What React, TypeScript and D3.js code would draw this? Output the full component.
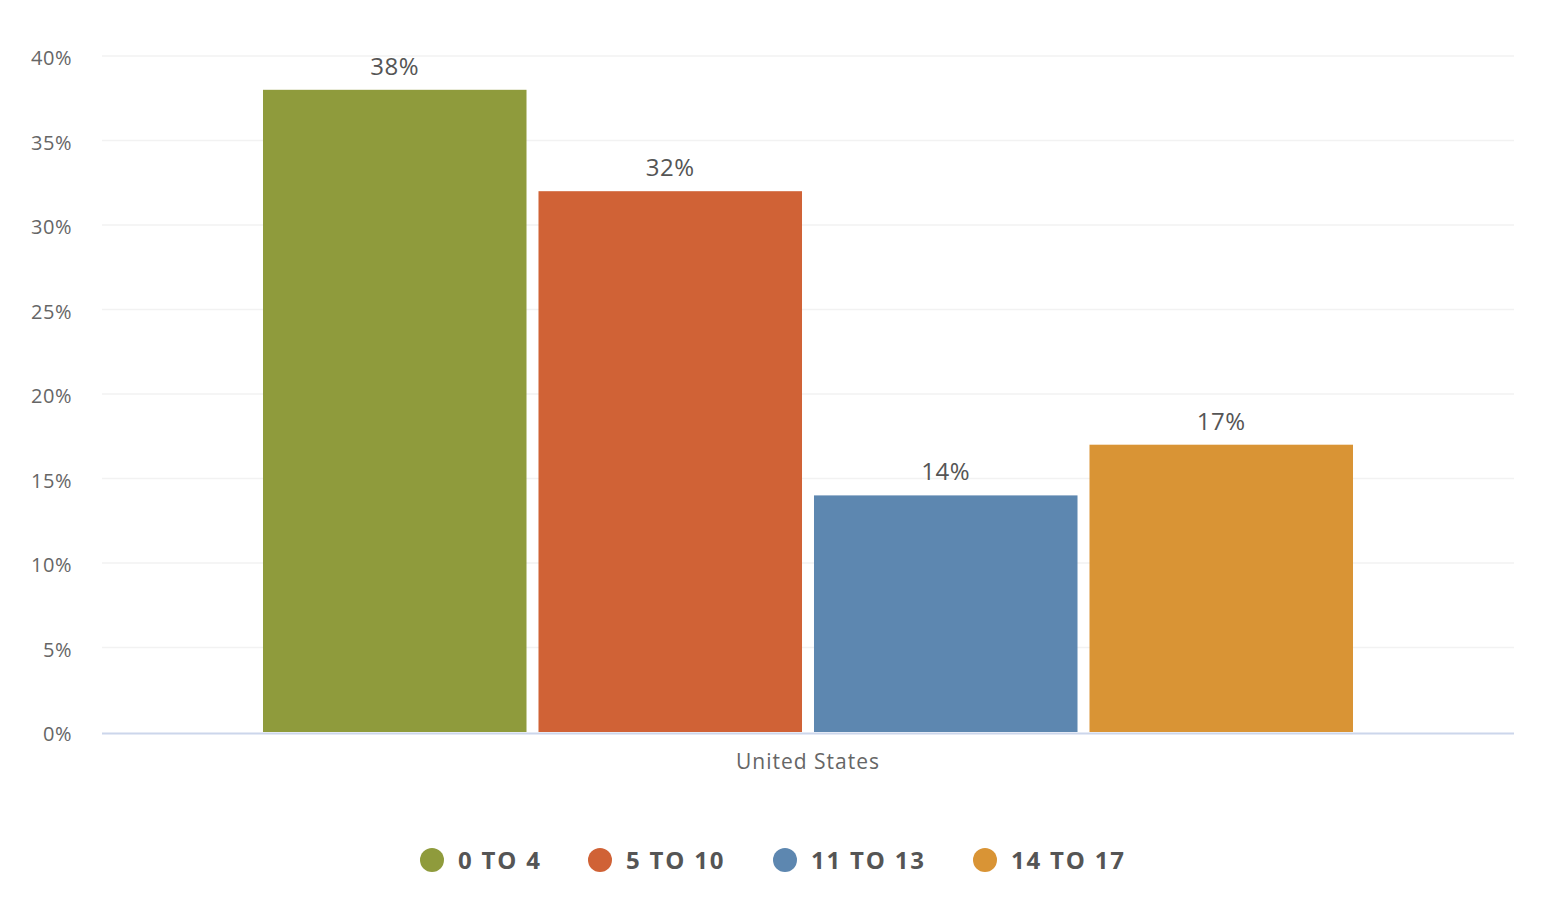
import * as d3 from "d3";

const categories = ["United States"];
const seriesNames = ["0 TO 4", "5 TO 10", "11 TO 13", "14 TO 17"];
const seriesValues = [38, 32, 14, 17];
const seriesColors = ["#8f9b3c", "#d06236", "#5d87b0", "#d99435"];
const yTicks = [0, 5, 10, 15, 20, 25, 30, 35, 40];

export default function App() {
    const width = 1568;
    const height = 908;
    const marginLeft = 102;
    const marginRight = 54;
    const marginTop = 56;
    const zeroY = 732;
    const font = "'Open Sans', 'DejaVu Sans', sans-serif";

    const y = d3.scaleLinear([0, 40], [zeroY, marginTop]);
    const x0 = d3
        .scaleBand(categories, [marginLeft, width - marginRight])
        .paddingOuter(0.1477)
        .paddingInner(0);
    const x1 = d3
        .scaleBand(seriesNames, [0, x0.bandwidth()])
        .paddingInner(0.0435)
        .paddingOuter(0);

    const legendX = [432, 600, 785, 985];

    return (
        <svg
            width={width}
            height={height}
            style={{ position: "absolute", left: 0, top: 0, background: "#fff" }}
            fontFamily={font}
        >
            <g>
                {yTicks.map((t) => (
                    <g key={t}>
                        {t > 0 && (
                            <line
                                x1={marginLeft}
                                x2={width - marginRight}
                                y1={y(t)}
                                y2={y(t)}
                                stroke="#f2f2f2"
                                strokeWidth={1.5}
                            />
                        )}
                        <text
                            x={72}
                            y={y(t) + 2}
                            dy="0.35em"
                            textAnchor="end"
                            fontSize={20}
                            letterSpacing={0.5}
                            fill="#666"
                        >
                            {t}%
                        </text>
                    </g>
                ))}
            </g>
            {categories.map((c) => (
                <g key={c} transform={`translate(${x0(c)},0)`}>
                    {seriesNames.map((s, i) => (
                        <g key={s}>
                            <rect
                                x={x1(s)}
                                y={y(seriesValues[i])}
                                width={x1.bandwidth()}
                                height={zeroY - y(seriesValues[i])}
                                fill={seriesColors[i]}
                            />
                            <text
                                x={(x1(s) as number) + x1.bandwidth() / 2}
                                y={y(seriesValues[i]) - 15}
                                textAnchor="middle"
                                fontSize={24}
                                letterSpacing={0.5}
                                fill="#555"
                            >
                                {seriesValues[i]}%
                            </text>
                        </g>
                    ))}
                </g>
            ))}
            <line
                x1={marginLeft}
                x2={width - marginRight}
                y1={zeroY + 1.5}
                y2={zeroY + 1.5}
                stroke="#ccd6eb"
                strokeWidth={2}
            />
            {categories.map((c) => (
                <text
                    key={c}
                    x={(x0(c) as number) + x0.bandwidth() / 2}
                    y={762}
                    dy="0.35em"
                    textAnchor="middle"
                    fontSize={21}
                    letterSpacing={1}
                    fill="#666"
                >
                    {c}
                </text>
            ))}
            <g>
                {seriesNames.map((s, i) => (
                    <g key={s}>
                        <circle cx={legendX[i]} cy={860} r={12} fill={seriesColors[i]} />
                        <text
                            x={legendX[i] + 26}
                            y={861}
                            dy="0.35em"
                            fontSize={24}
                            fontWeight="bold"
                            letterSpacing={1.8}
                            fill="#555"
                        >
                            {s}
                        </text>
                    </g>
                ))}
            </g>
        </svg>
    );
}
